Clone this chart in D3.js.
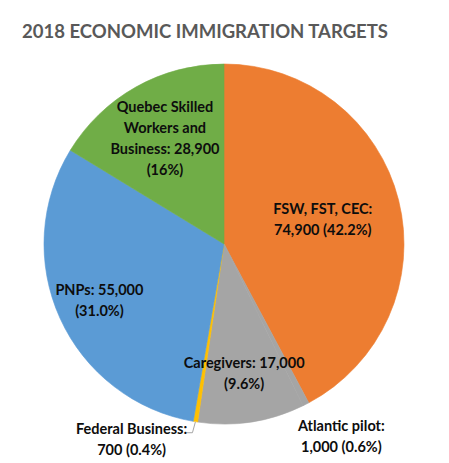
<!DOCTYPE html>
<html>
<head>
<meta charset="utf-8">
<script src="https://cdn.jsdelivr.net/npm/d3@7"></script>
<style>
  html, body { margin: 0; padding: 0; background: #fff; }
  svg text { font-family: Lato, "Open Sans", sans-serif; font-weight: bold; }
</style>
</head>
<body>
<div id="chart"></div>
<script>
// data
const categories = ["FSW, FST, CEC", "Atlantic pilot", "Caregivers", "Federal Business", "PNPs", "Quebec Skilled Workers and Business"]
const values = [74900, 1000, 17000, 700, 55000, 28900]
const percentLabels = ["42.2%", "0.6%", "9.6%", "0.4%", "31.0%", "16%"]
const labelLines = [
    ["FSW, FST, CEC:", "74,900 (42.2%)"],
    ["Atlantic pilot:", "1,000 (0.6%)"],
    ["Caregivers: 17,000", "(9.6%)"],
    ["Federal Business:", "700 (0.4%)"],
    ["PNPs: 55,000", "(31.0%)"],
    ["Quebec Skilled", "Workers and", "Business: 28,900", "(16%)"]
]
const colors = ["#ED7D31", "#A5A5A5", "#A5A5A5", "#FFC000", "#5B9BD5", "#70AD47"]

const svgWidth = 449
const svgHeight = 463
const cx = 224
const cy = 244
const radius = 180
const lineHeight = 21

// where each label sits, as a fraction of the radius plus a nudge
const labelLayout = [
    {k: 0.56, dx: 1, dy: 0},
    {k: 1.2, dx: 19, dy: 0},
    {k: 0.73, dx: 0, dy: 0},
    {k: 1.1, dx: -61, dy: 0},
    {k: 0.76, dx: 0, dy: 0},
    {k: 0.67, dx: 0, dy: 0}
]

const svg = d3.select("#chart")
    .append("svg")
    .attr("width", svgWidth)
    .attr("height", svgHeight)

svg.append("text")
    .attr("x", 22)
    .attr("y", 38)
    .attr("fill", "#595959")
    .attr("font-size", 19)
    .attr("textLength", 366)
    .attr("lengthAdjust", "spacingAndGlyphs")
    .text("2018 ECONOMIC IMMIGRATION TARGETS")

const pie = d3.pie().sort(null).value(function(d) { return d; })
const arcs = pie(values)
const arc = d3.arc().innerRadius(0).outerRadius(radius)

const g = svg.append("g")
    .attr("transform", "translate(" + cx + "," + cy + ")")

g.selectAll(".slice")
    .data(arcs)
    .enter().append("path")
    .attr("class", "slice")
    .attr("d", arc)
    .attr("fill", function(d, i) { return colors[i]; })
    .attr("stroke", function(d, i) { return colors[i]; })
    .attr("stroke-width", 0.6)

// leader line for the tiny federal business slice
const fb = arcs[3]
const fbEdge = d3.arc().innerRadius(radius).outerRadius(radius).centroid(fb)
g.append("polyline")
    .attr("points", [
        [fbEdge[0], fbEdge[1]],
        [fbEdge[0] - 3, fbEdge[1] + 11],
        [fbEdge[0] - 9, fbEdge[1] + 11]
    ].map(function(p) { return p.join(","); }).join(" "))
    .attr("fill", "none")
    .attr("stroke", "#A6A6A6")
    .attr("stroke-width", 1)

const labels = g.selectAll(".label")
    .data(arcs)
    .enter().append("text")
    .attr("class", "label")
    .attr("text-anchor", "middle")
    .attr("font-size", 14.5)
    .attr("fill", "#0d0d0d")
    .attr("transform", function(d, i) {
        const L = labelLayout[i]
        const c = d3.arc().innerRadius(radius * L.k).outerRadius(radius * L.k).centroid(d)
        const n = labelLines[i].length
        return "translate(" + (c[0] + L.dx) + "," + (c[1] + L.dy - (n - 1) * lineHeight / 2 + 5) + ")"
    })

labels.selectAll("tspan")
    .data(function(d, i) { return labelLines[i]; })
    .enter().append("tspan")
    .attr("x", 0)
    .attr("dy", function(d, j) { return j === 0 ? 0 : lineHeight; })
    .text(function(d) { return d; })
</script>
</body>
</html>
